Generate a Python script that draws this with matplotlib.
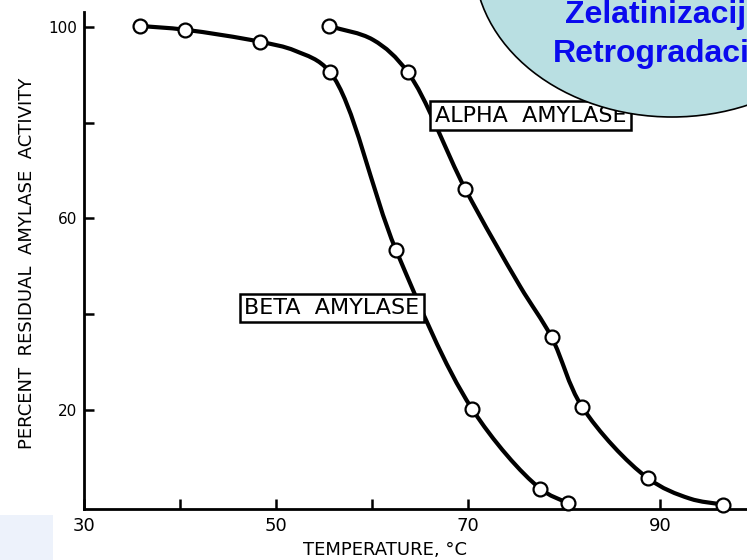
import matplotlib
matplotlib.use("Agg")
import numpy as np
import matplotlib.pyplot as plt
from matplotlib.patches import Ellipse, Rectangle, PathPatch
from matplotlib.path import Path

# measured points (temperature in C, percent residual activity)
beta_temp = [35.8, 40.5, 48.3, 55.6, 62.5, 70.4, 77.5, 80.4]
beta_act = [100.2, 99.4, 96.9, 90.6, 53.4, 20.3, 3.6, 0.5]
alpha_temp = [55.5, 63.7, 69.7, 78.7, 81.9, 88.7, 96.6]
alpha_act = [100.2, 90.6, 66.2, 35.2, 20.6, 5.8, 0.2]

# hand-drawn curves (markers plus a few guide points)
beta_curve_t = [35.8, 40.5, 48.3, 52.0, 55.6, 62.5, 70.4, 77.5, 80.4]
beta_curve_a = [100.2, 99.4, 96.9, 95.0, 90.6, 53.4, 20.3, 3.6, 0.5]
alpha_curve_t = [55.5, 60.1, 63.7, 69.7, 75.4, 78.7, 81.9, 88.7, 93.1, 96.6]
alpha_curve_a = [100.2, 97.3, 90.6, 66.2, 45.9, 35.2, 20.6, 5.8, 1.5, 0.2]

xticks = [30, 40, 50, 60, 70, 80, 90]
xlabels = ["30", "", "50", "", "70", "", "90"]
yticks = [20, 40, 60, 80, 100]
ylabels = ["20", "", "60", "", "100"]

SX, SY = 9.6, 4.7875  # pixels per degree / per percent


def smooth_path(xs, ys):
    # centripetal catmull-rom through the read points (in screen-like units)
    P = np.column_stack([np.array(xs) * SX, np.array(ys) * SY])
    P = np.vstack([2 * P[0] - P[1], P, 2 * P[-1] - P[-2]])
    verts = [P[1]]
    codes = [Path.MOVETO]
    for i in range(1, len(P) - 2):
        p0, p1, p2, p3 = P[i - 1], P[i], P[i + 1], P[i + 2]
        d0 = np.linalg.norm(p1 - p0) ** 0.5
        d1 = np.linalg.norm(p2 - p1) ** 0.5
        d2 = np.linalg.norm(p3 - p2) ** 0.5
        m1 = (p1 - p0) / d0 - (p2 - p0) / (d0 + d1) + (p2 - p1) / d1
        m2 = (p2 - p1) / d1 - (p3 - p1) / (d1 + d2) + (p3 - p2) / d2
        verts += [p1 + m1 * d1 / 3, p2 - m2 * d1 / 3, p2]
        codes += [Path.CURVE4] * 3
    verts = np.array(verts) / [SX, SY]
    return Path(verts, codes)


W, H = 747, 560
fig = plt.figure(figsize=(W / 100, H / 100), dpi=100)
ax = fig.add_axes([84 / W, 51 / H, 663 / W, 497 / H])

for cx, cy in [(beta_curve_t, beta_curve_a), (alpha_curve_t, alpha_curve_a)]:
    ax.add_patch(PathPatch(smooth_path(cx, cy), fc="none", ec="black", lw=3,
                           capstyle="round", joinstyle="round", zorder=2))
ax.plot(beta_temp, beta_act, "o", ms=10, mfc="white", mec="black", mew=1.6, zorder=3, clip_on=False)
ax.plot(alpha_temp, alpha_act, "o", ms=10, mfc="white", mec="black", mew=1.6, zorder=3, clip_on=False)

ax.set_xlim(30, 30 + 663 / SX)
ax.set_ylim(-0.68, 103.1)
for s in ["top", "right"]:
    ax.spines[s].set_visible(False)
for s in ["left", "bottom"]:
    ax.spines[s].set_linewidth(2)

ax.set_xticks(xticks)
ax.set_xticklabels(xlabels)
ax.set_yticks(yticks)
ax.set_yticklabels(ylabels)
ax.tick_params(axis="x", direction="in", length=7, width=1.8, labelsize=13, pad=6)
ax.tick_params(axis="y", direction="in", length=7, width=1.8, labelsize=11, pad=5)

box = dict(boxstyle="square,pad=0.2", fc="white", ec="black", lw=1.8)
ax.text(76.5, 81.4, "ALPHA  AMYLASE", fontsize=16, ha="center", va="center", bbox=box, zorder=4)
ax.text(55.8, 41.3, "BETA  AMYLASE", fontsize=16, ha="center", va="center", bbox=box, zorder=4)

# overlay in pixel coordinates for the slide decorations
ov = fig.add_axes([0, 0, 1, 1])
ov.set_xlim(0, W)
ov.set_ylim(H, 0)
ov.axis("off")
ov.add_patch(Ellipse((672, -40), 396, 314, fc="#b9dfe2", ec="black", lw=1.2))
ov.add_patch(Rectangle((0, 515), 53, 45, fc="#edf2fb", ec="none"))
ov.text(565, 23, "Zelatinizacija", color="#0a0aee", fontsize=23, fontweight="bold",
        family="Liberation Sans", va="baseline", ha="left")
ov.text(553, 62, "Retrogradacija", color="#0a0aee", fontsize=23, fontweight="bold",
        family="Liberation Sans", va="baseline", ha="left")

fig.text(27 / W, 1 - 263 / H, "PERCENT  RESIDUAL  AMYLASE  ACTIVITY", rotation=90,
         fontsize=13, ha="center", va="center")
fig.text(385 / W, 1 - 550 / H, "TEMPERATURE, °C", fontsize=13, ha="center", va="center")

fig.savefig("out.png", dpi=100)
